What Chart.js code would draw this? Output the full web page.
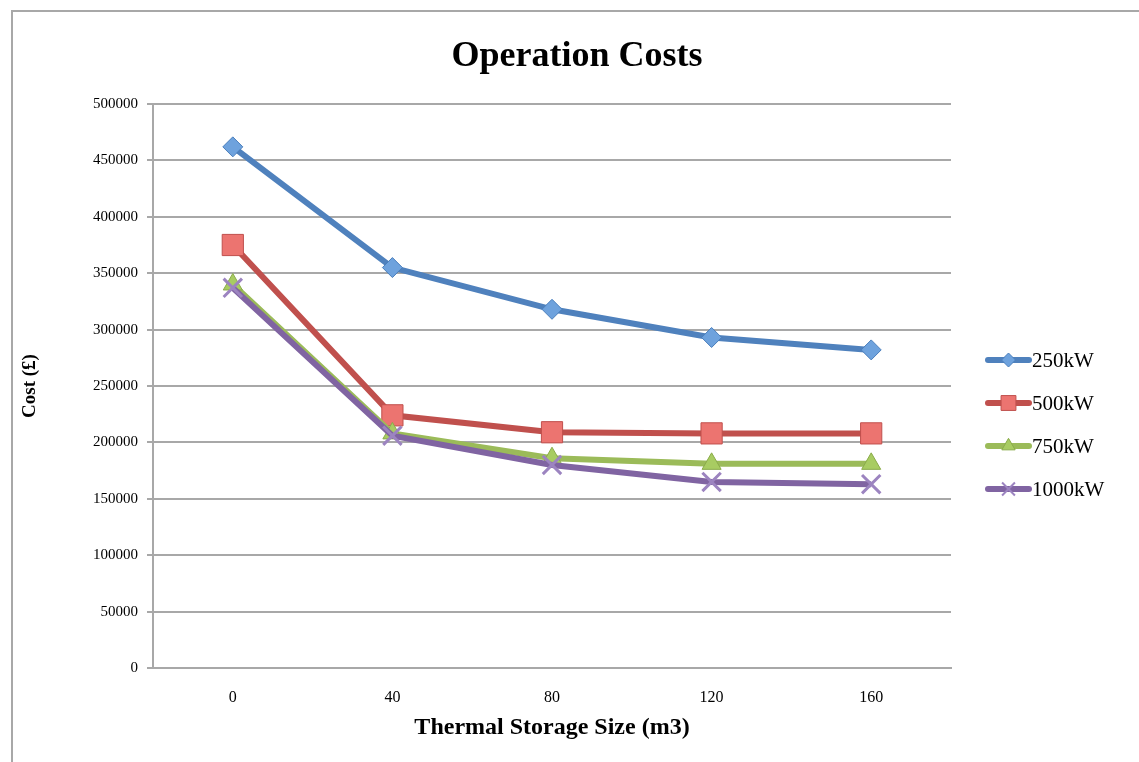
<!DOCTYPE html>
<html>
<head>
<meta charset="utf-8">
<title>Operation Costs</title>
<script src="https://cdn.jsdelivr.net/npm/chart.js@4/dist/chart.umd.min.js"></script>
<style>
  html, body { margin: 0; padding: 0; background: #fff; }
  #wrap { position: relative; width: 1139px; height: 762px; }
  #frame { position: absolute; left: 11px; top: 10px; right: -4px; bottom: -4px; border-left: 2px solid #a8a8a8; border-top: 2px solid #a8a8a8; }
</style>
</head>
<body>
<div id="wrap">
  <div id="frame"></div>
  <canvas id="myChart" width="1139" height="762"></canvas>
</div>
<script>
// storage sizes (m3) on the x axis
const storageSizes = ['0', '40', '80', '120', '160'];

// operation cost (£) for each boiler size
const cost250 = [462000, 355000, 318000, 293000, 282000];
const cost500 = [375000, 224000, 209000, 208000, 208000];
const cost750 = [340000, 208000, 186000, 181000, 181000];
const cost1000 = [337000, 206000, 180000, 165000, 163000];

const seriesNames = ['250kW', '500kW', '750kW', '1000kW'];

const serif = "'Liberation Serif', 'Times New Roman', serif";

// line colour, marker fill, marker edge, marker shape, marker size
const styles = [
  {line: '#4f81bd', fill: '#6ea2dd', edge: '#4a7ebb', shape: 'rectRot', r: 10},
  {line: '#c0504d', fill: '#ec7470', edge: '#c0504d', shape: 'rect', r: 15},
  {line: '#9bbb59', fill: '#a8cc62', edge: '#8aab4a', shape: 'triangle', r: 11},
  {line: '#8064a2', fill: '#9c84c0', edge: '#9c84c0', shape: 'crossRot', r: 13}
];

const allCosts = [cost250, cost500, cost750, cost1000];

let datasets = allCosts.map((values, i) => {
  const s = styles[i];
  return {
    label: seriesNames[i],
    data: values,
    borderColor: s.line,
    borderWidth: 6,
    pointStyle: s.shape,
    pointRadius: s.r,
    pointBorderWidth: s.shape == 'crossRot' ? 3 : 1,
    pointBackgroundColor: s.fill,
    pointBorderColor: s.edge,
    tension: 0,
    order: 3 - i // later series drawn on top
  };
});

// title centred on the whole page, legend on the right
const extras = {
  id: 'extras',
  afterDraw(chart) {
    const ctx = chart.ctx;
    ctx.save();
    ctx.fillStyle = '#000';
    ctx.font = 'bold 36px ' + serif;
    ctx.textAlign = 'center';
    ctx.textBaseline = 'middle';
    ctx.fillText('Operation Costs', 577, 57);

    const x0 = 988, x1 = 1029, top = 360, step = 43;
    styles.forEach((s, i) => {
      const y = top + i * step;
      ctx.strokeStyle = s.line;
      ctx.lineWidth = 6;
      ctx.lineCap = 'round';
      ctx.beginPath();
      ctx.moveTo(x0, y);
      ctx.lineTo(x1, y);
      ctx.stroke();

      // marker in the middle of the line (drawPoint uses ctx.lineWidth)
      const bw = s.shape == 'crossRot' ? 2 : 1;
      ctx.lineCap = 'butt';
      ctx.lineWidth = bw;
      ctx.fillStyle = s.fill;
      ctx.strokeStyle = s.edge;
      Chart.helpers.drawPoint(ctx, {
        pointStyle: s.shape,
        radius: s.r * 0.7,
        borderWidth: bw
      }, (x0 + x1) / 2, y);

      ctx.fillStyle = '#000';
      ctx.font = '21px ' + serif;
      ctx.textBaseline = 'middle';
      ctx.textAlign = 'left';
      ctx.fillText(seriesNames[i], x1 + 3, y + 1);
    });
    ctx.restore();
  }
};

const myChart = document.getElementById('myChart');

let lineChart = new Chart(myChart, {
  type: 'line',
  data: {
    labels: storageSizes,
    datasets: datasets
  },
  plugins: [extras],
  options: {
    responsive: false,
    animation: false,
    layout: {padding: {left: 0, right: 188, top: 104, bottom: 0}},
    plugins: {
      legend: {display: false},
      tooltip: {enabled: false},
      title: {display: false}
    },
    scales: {
      x: {
        offset: true,
        grid: {color: 'rgba(0,0,0,0)', drawTicks: false},
        border: {color: '#a8a8a8', width: 2},
        ticks: {color: '#000', font: {family: serif, size: 16}, padding: 20},
        title: {
          display: true,
          text: 'Thermal Storage Size (m3)',
          color: '#000',
          font: {family: serif, size: 24, weight: 'bold'},
          padding: {top: 20, bottom: 20}
        },
        afterFit: scale => { scale.height = 94; }
      },
      y: {
        min: 0,
        max: 500000,
        ticks: {
          stepSize: 50000,
          color: '#000',
          font: {family: serif, size: 15},
          padding: 9,
          callback: v => v
        },
        grid: {color: '#a8a8a8', lineWidth: 2, tickLength: 6},
        border: {color: '#a8a8a8', width: 2},
        title: {
          display: true,
          text: 'Cost (£)',
          color: '#000',
          font: {family: serif, size: 19, weight: 'bold'},
          padding: {top: 19, bottom: 19}
        },
        afterFit: scale => { scale.width = 153; }
      }
    }
  }
});
</script>
</body>
</html>
